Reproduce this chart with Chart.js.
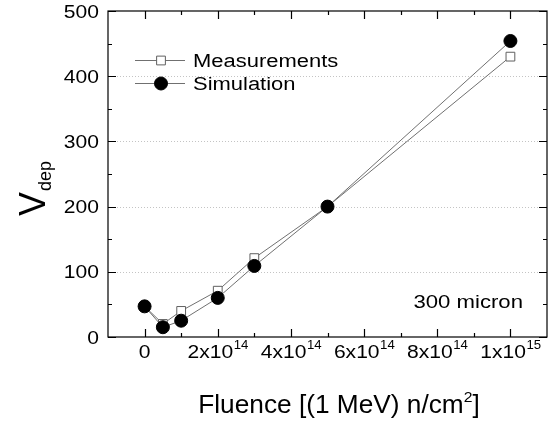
<!DOCTYPE html>
<html lang="en">
<head>
  <meta charset="UTF-8" />
  <title>Vdep vs fluence</title>
  <script src="https://cdn.jsdelivr.net/npm/chart.js"></script>
  <style>
    body { margin: 0; background: #fff; }
    canvas { display: block; }
  </style>
</head>
<body>
  <canvas id="chart" width="555" height="425"></canvas>

  <script>
    // data
    const fluence = [0, 0.5e14, 1e14, 2e14, 3e14, 5e14, 1e15];
    const measurements = [47, 20, 40, 71, 121, 200, 430];
    const simulation = [47, 15, 25, 60, 109, 200, 454];

    // axes
    const xMajor = [0, 2e14, 4e14, 6e14, 8e14, 1e15];
    const xMinor = [1e14, 3e14, 5e14, 7e14, 9e14];
    const xLabels = [['0', ''], ['2x10', '14'], ['4x10', '14'], ['6x10', '14'], ['8x10', '14'], ['1x10', '15']];
    const yMajor = [0, 100, 200, 300, 400, 500];
    const yMinor = [50, 150, 250, 350, 450];
    const yLabels = ['0', '100', '200', '300', '400', '500'];
    const yGrid = [100, 200, 300, 400];

    const FONT = '"Liberation Sans", Arial, sans-serif';
    const lineGray = '#707070';

    function putText(ctx, str, x, y, size, sx, align) {
      ctx.font = size + 'px ' + FONT;
      const w = ctx.measureText(str).width * sx;
      let left = x;
      if (align === 'right') left = x - w;
      if (align === 'center') left = x - w / 2;
      ctx.save();
      ctx.translate(left, y);
      ctx.scale(sx, 1);
      ctx.textAlign = 'left';
      ctx.textBaseline = 'alphabetic';
      ctx.fillText(str, 0, 0);
      ctx.restore();
      return w;
    }

    function textWidth(ctx, str, size, sx) {
      ctx.font = size + 'px ' + FONT;
      return ctx.measureText(str).width * sx;
    }

    const decor = {
      id: 'decor',
      beforeDatasetsDraw(chart) {
        const { ctx, chartArea: a, scales: { y } } = chart;
        ctx.save();
        ctx.strokeStyle = '#c4c4c4';
        ctx.lineWidth = 1;
        ctx.setLineDash([1, 2]);
        yGrid.forEach(v => {
          const py = Math.round(y.getPixelForValue(v)) + 0.5;
          ctx.beginPath();
          ctx.moveTo(a.left, py);
          ctx.lineTo(a.right, py);
          ctx.stroke();
        });
        ctx.restore();
      },
      afterDatasetsDraw(chart) {
        const { ctx, chartArea: a, scales: { x, y } } = chart;
        ctx.save();
        ctx.strokeStyle = '#000';
        ctx.fillStyle = '#000';
        ctx.lineWidth = 1.2;
        ctx.strokeRect(a.left, a.top, a.right - a.left, a.bottom - a.top);

        // inner ticks on all four sides
        const tick = (vals, len) => {
          vals.forEach(v => {
            const px = Math.round(x.getPixelForValue(v)) + 0.5;
            ctx.beginPath();
            ctx.moveTo(px, a.bottom); ctx.lineTo(px, a.bottom - len);
            ctx.moveTo(px, a.top); ctx.lineTo(px, a.top + len);
            ctx.stroke();
          });
        };
        const ytick = (vals, len) => {
          vals.forEach(v => {
            const py = Math.round(y.getPixelForValue(v)) + 0.5;
            ctx.beginPath();
            ctx.moveTo(a.left, py); ctx.lineTo(a.left + len, py);
            ctx.moveTo(a.right, py); ctx.lineTo(a.right - len, py);
            ctx.stroke();
          });
        };
        tick(xMajor, 8);
        tick(xMinor, 4);
        ytick(yMajor, 8);
        ytick(yMinor, 4);

        // y tick labels
        yMajor.forEach((v, i) => {
          putText(ctx, yLabels[i], a.left - 9, y.getPixelForValue(v) + 6.5, 18, 1.17, 'right');
        });

        // x tick labels with exponent
        xMajor.forEach((v, i) => {
          const [base, exp] = xLabels[i];
          const wb = textWidth(ctx, base, 18, 1.17);
          const we = exp ? textWidth(ctx, exp, 12, 1.1) : 0;
          const left = x.getPixelForValue(v) - (wb + we) / 2;
          putText(ctx, base, left, 358, 18, 1.17, 'left');
          if (exp) putText(ctx, exp, left + wb + 0.5, 349, 12, 1.1, 'left');
        });

        // x title
        const t1 = 'Fluence [(1 MeV) n/cm', t2 = '2', t3 = ']';
        const w1 = textWidth(ctx, t1, 25, 1.05);
        const w2 = textWidth(ctx, t2, 15, 1.05);
        const w3 = textWidth(ctx, t3, 25, 1.05);
        const tx = 339 - (w1 + w2 + w3) / 2;
        putText(ctx, t1, tx, 413, 25, 1.05, 'left');
        putText(ctx, t2, tx + w1, 402, 15, 1.05, 'left');
        putText(ctx, t3, tx + w1 + w2, 413, 25, 1.05, 'left');

        // y title, rotated
        ctx.save();
        ctx.translate(45, 216);
        ctx.rotate(-Math.PI / 2);
        const wv = putText(ctx, 'V', 0, 0, 36, 1, 'left');
        putText(ctx, 'dep', wv + 1, 6, 18, 1, 'left');
        ctx.restore();

        // legend, using the dataset styles
        const ds = chart.data.datasets;
        const rows = [[ds[1], 60], [ds[0], 83]];
        rows.forEach(([d, cy]) => {
          ctx.strokeStyle = d.borderColor;
          ctx.lineWidth = 1;
          ctx.beginPath();
          ctx.moveTo(135, cy + 0.5); ctx.lineTo(185, cy + 0.5);
          ctx.stroke();
          ctx.fillStyle = d.pointBackgroundColor;
          ctx.strokeStyle = d.pointBorderColor;
          ctx.lineWidth = d.pointBorderWidth;
          ctx.beginPath();
          if (d.pointStyle === 'rect') {
            const s = Math.SQRT1_2 * d.pointRadius;
            ctx.rect(161 - s, cy + 0.5 - s, 2 * s, 2 * s);
          } else {
            ctx.arc(161, cy + 0.5, d.pointRadius, 0, Math.PI * 2);
          }
          ctx.fill();
          ctx.stroke();
          ctx.fillStyle = '#000';
          putText(ctx, d.label, 193, cy + 6.5, 18, 1.22, 'left');
        });

        putText(ctx, '300 micron', 523, 308, 18, 1.23, 'right');
        ctx.restore();
      }
    };

    new Chart(document.getElementById('chart'), {
      type: 'line',
      data: {
        datasets: [
          {
            label: 'Simulation',
            data: fluence.map((f, i) => ({ x: f, y: simulation[i] })),
            borderColor: lineGray,
            borderWidth: 1,
            pointStyle: 'circle',
            pointRadius: 6.5,
            pointBorderWidth: 1,
            pointBackgroundColor: '#000',
            pointBorderColor: '#000',
            tension: 0,
            order: 0
          },
          {
            label: 'Measurements',
            data: fluence.map((f, i) => ({ x: f, y: measurements[i] })),
            borderColor: lineGray,
            borderWidth: 1,
            pointStyle: 'rect',
            pointRadius: 6.2,
            pointBorderWidth: 1,
            pointBackgroundColor: '#fff',
            pointBorderColor: '#606060',
            tension: 0,
            order: 1
          }
        ]
      },
      options: {
        responsive: false,
        animation: false,
        clip: false,
        layout: { padding: { top: 11, right: 8, left: 0, bottom: 0 } },
        plugins: { legend: { display: false }, tooltip: { enabled: false } },
        scales: {
          x: {
            type: 'linear',
            min: -1e14,
            max: 1.1e15,
            grid: { display: false },
            border: { display: false },
            ticks: { display: false },
            afterFit: s => { s.height = 88; }
          },
          y: {
            min: 0,
            max: 500,
            grid: { display: false },
            border: { display: false },
            ticks: { display: false },
            afterFit: s => { s.width = 108; }
          }
        }
      },
      plugins: [decor]
    });
  </script>
</body>
</html>
